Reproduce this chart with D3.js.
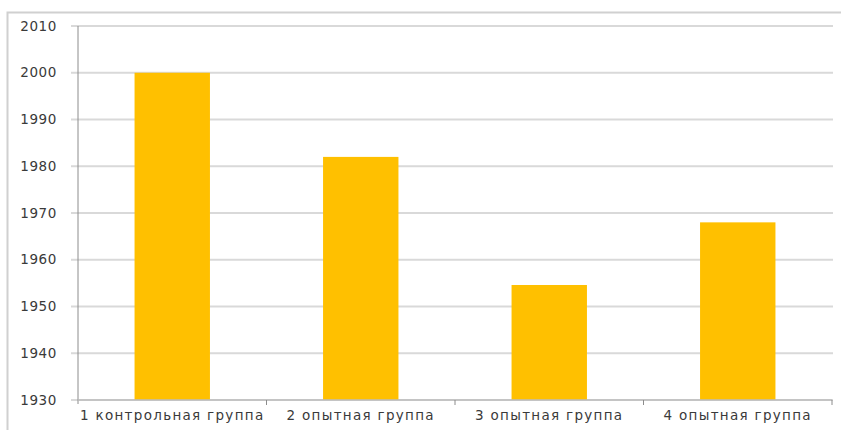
<!DOCTYPE html>
<html><head><meta charset="utf-8">
<script src="https://cdn.jsdelivr.net/npm/d3@7"></script>
<style>body{margin:0;background:#fff}svg{display:block}</style>
</head><body>
<script>
const categories = ["1 контрольная группа","2 опытная группа","3 опытная группа","4 опытная группа"];
const values = [2000, 1982, 1954.6, 1968];
const yTicks = [1930,1940,1950,1960,1970,1980,1990,2000,2010];

const W=841,H=430;
const svg=d3.select("body").append("svg").attr("width",W).attr("height",H);
svg.append("path").attr("d","M7.5,430 V12.5 H841").attr("fill","none").attr("stroke","#d0d0d0").attr("stroke-width",2);

const x0=78,x1=832,yTop=26,yBot=400;
const x=d3.scaleBand().domain(categories).range([x0,x1]).paddingInner(0).paddingOuter(0);
const y=d3.scaleLinear().domain([1930,2010]).range([yBot,yTop]);

svg.append("g").selectAll("line").data(yTicks).join("line")
  .attr("x1",71).attr("x2",833).attr("y1",d=>y(d)).attr("y2",d=>y(d))
  .attr("stroke","#d9d9d9").attr("stroke-width",2);

const bw=x.bandwidth()*0.4;
svg.append("g").selectAll("rect").data(values).join("rect")
  .attr("x",(d,i)=>x(categories[i])+x.bandwidth()/2-bw/2)
  .attr("width",bw)
  .attr("y",d=>y(d)).attr("height",d=>yBot-y(d))
  .attr("fill","#ffc000");

svg.append("line").attr("x1",x0).attr("x2",x0).attr("y1",yTop).attr("y2",yBot+4).attr("stroke","#8c8c8c").attr("stroke-width",1);
svg.append("line").attr("x1",x0).attr("x2",x1).attr("y1",yBot).attr("y2",yBot).attr("stroke","#bdbdbd").attr("stroke-width",1.5);
const bounds=categories.map(c=>x(c)).concat([x1]);
svg.append("g").selectAll("line").data(bounds.slice(1)).join("line")
  .attr("x1",d=>d).attr("x2",d=>d).attr("y1",yBot).attr("y2",yBot+5)
  .attr("stroke","#8c8c8c").attr("stroke-width",1);

const font="DejaVu Sans, Verdana, sans-serif";
svg.append("g").selectAll("text").data(yTicks).join("text")
  .attr("x",57).attr("y",d=>y(d)).attr("dy","0.35em").attr("text-anchor","end")
  .attr("font-family",font).attr("font-size",13.5).attr("letter-spacing",0.6)
  .attr("fill","#3a3a3a").text(d=>d);
svg.append("g").selectAll("text").data(categories).join("text")
  .attr("x",c=>x(c)+x.bandwidth()/2).attr("y",420).attr("text-anchor","middle")
  .attr("font-family",font).attr("font-size",13.5).attr("letter-spacing",1.3)
  .attr("fill","#3a3a3a").text(c=>c);
</script>
</body></html>
